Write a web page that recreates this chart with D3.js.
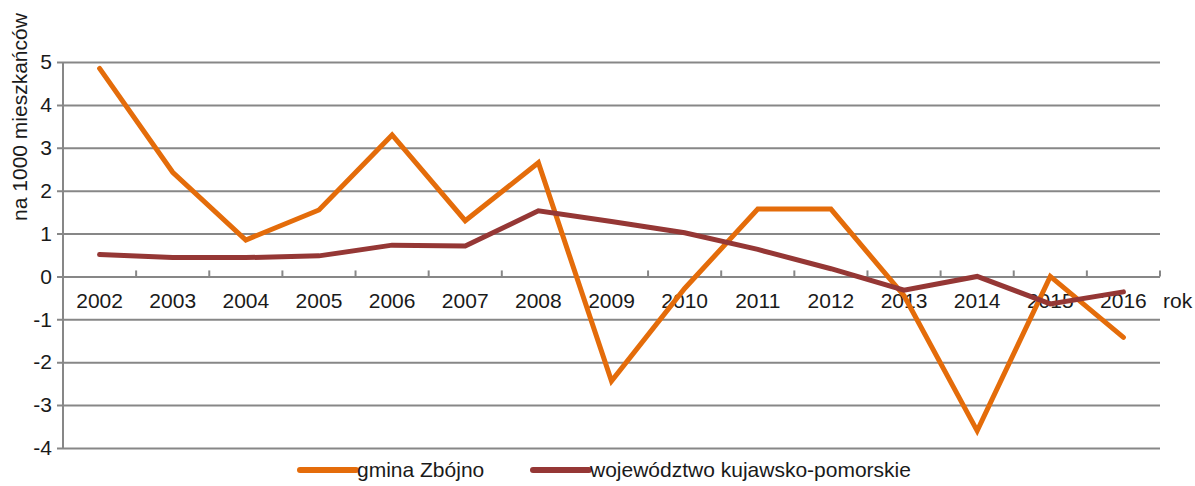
<!DOCTYPE html>
<html>
<head>
<meta charset="utf-8">
<script src="https://cdn.jsdelivr.net/npm/d3@7"></script>
<style>
  body { margin: 0; background: #fff; }
  text { font-family: "Liberation Sans", Arial, sans-serif; fill: #1a1a1a; }
</style>
</head>
<body>
<div id="chartDiv"></div>
<script>
// data
var years = ["2002", "2003", "2004", "2005", "2006", "2007", "2008", "2009",
             "2010", "2011", "2012", "2013", "2014", "2015", "2016"];
var gmina = [4.85, 2.43, 0.85, 1.55, 3.3, 1.3, 2.65, -2.44, -0.28, 1.57, 1.57, -0.45, -3.6, 0.0, -1.42];
var wojewodztwo = [0.51, 0.44, 0.44, 0.48, 0.73, 0.71, 1.53, 1.28, 1.02, 0.63, 0.18, -0.32, 0.0, -0.64, -0.36];
var yTicks = [-4, -3, -2, -1, 0, 1, 2, 3, 4, 5];
var seriesNames = ["gmina Zbójno", "województwo kujawsko-pomorskie"];

var width = 1195, height = 486;
var margin = {top: 62, right: 35, bottom: 38, left: 63};
var colors = ["#E46C0A", "#953735"];
var gridColor = "#878787";

var svg = d3.select("#chartDiv").append("svg")
    .attr("width", width)
    .attr("height", height);

var x = d3.scaleBand()
    .domain(years)
    .range([margin.left, width - margin.right])
    .padding(0);

var y = d3.scaleLinear()
    .domain([-4, 5])
    .range([height - margin.bottom, margin.top]);

// horizontal gridlines + y labels (plain hyphen minus like the original)
var yAxis = d3.axisLeft(y)
    .tickValues(yTicks)
    .tickSizeOuter(0)
    .tickPadding(11)
    .tickFormat(function(d) { return String(d); });

var gy = svg.append("g")
    .attr("transform", "translate(" + (margin.left - 6) + ",0)")
    .call(yAxis);
gy.select(".domain").remove();
gy.selectAll(".tick line")
    .attr("stroke", gridColor)
    .attr("stroke-width", 2)
    .attr("x1", 0)
    .attr("x2", width - margin.right - margin.left + 6);
gy.selectAll(".tick text")
    .attr("x", -5)
    .style("font-size", "21px")
    .style("font-family", "'Liberation Sans', Arial, sans-serif")
    .attr("fill", "#1a1a1a");

// left axis line
svg.append("line")
    .attr("x1", margin.left).attr("x2", margin.left)
    .attr("y1", y(5)).attr("y2", y(-4))
    .attr("stroke", gridColor)
    .attr("stroke-width", 2);

// category axis on the zero line, ticks point up
var xAxis = d3.axisBottom(x)
    .tickSize(0)
    .tickPadding(0);

var gx = svg.append("g")
    .attr("transform", "translate(0," + y(0) + ")")
    .call(xAxis);
gx.select(".domain").remove();
gx.selectAll(".tick text")
    .attr("y", 32)
    .attr("dy", 0)
    .style("font-size", "21px")
    .style("font-family", "'Liberation Sans', Arial, sans-serif")
    .attr("fill", "#1a1a1a");

var bounds = years.map(function(d) { return x(d) + x.bandwidth(); });
svg.append("g").selectAll("line")
    .data(bounds)
    .enter().append("line")
    .attr("x1", function(d) { return d; })
    .attr("x2", function(d) { return d; })
    .attr("y1", y(0) - 6)
    .attr("y2", y(0))
    .attr("stroke", gridColor)
    .attr("stroke-width", 2);

svg.append("text")
    .attr("x", width - margin.right + 3)
    .attr("y", y(0) + 32)
    .style("font-size", "21px")
    .text("rok");

// y title
svg.append("text")
    .attr("transform", "translate(27," + 117 + ") rotate(-90)")
    .attr("text-anchor", "middle")
    .style("font-size", "21px")
    .text("na 1000 mieszkańców");

// lines
var line = d3.line()
    .x(function(d, i) { return x(years[i]) + x.bandwidth() / 2; })
    .y(function(d) { return y(d); });

[gmina, wojewodztwo].forEach(function(series, i) {
    svg.append("path")
        .datum(series)
        .attr("fill", "none")
        .attr("stroke", colors[i])
        .attr("stroke-width", 5)
        .attr("stroke-linejoin", "miter")
        .attr("stroke-linecap", "round")
        .attr("d", line);
});

// legend
var legendX = [300, 533];
var legend = svg.append("g");
seriesNames.forEach(function(name, i) {
    legend.append("line")
        .attr("x1", legendX[i]).attr("x2", legendX[i] + 56)
        .attr("y1", 470).attr("y2", 470)
        .attr("stroke", colors[i])
        .attr("stroke-width", 6)
        .attr("stroke-linecap", "round");
    legend.append("text")
        .attr("x", legendX[i] + 57)
        .attr("y", 477)
        .style("font-size", "21px")
        .text(name);
});
</script>
</body>
</html>
